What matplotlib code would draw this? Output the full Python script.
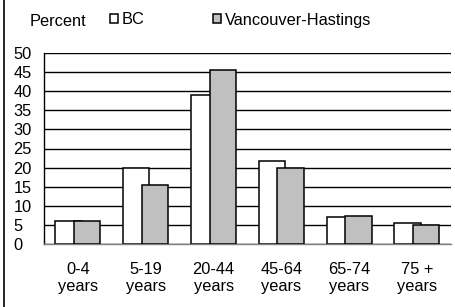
import numpy as np
import matplotlib
matplotlib.use("Agg")
import matplotlib.pyplot as plt
from matplotlib.lines import Line2D

plt.rcParams['font.family'] = ['Liberation Sans', 'DejaVu Sans']

categories = ["0-4\nyears", "5-19\nyears", "20-44\nyears", "45-64\nyears", "65-74\nyears", "75 +\nyears"]
bc = [6.1, 20.0, 39.1, 21.7, 7.1, 5.4]
vancouver_hastings = [5.9, 15.5, 45.6, 20.0, 7.4, 4.9]
series_names = ["BC", "Vancouver-Hastings"]
yticks = list(range(0, 51, 5))

fs = 11.8

fig = plt.figure(figsize=(4.56, 3.07), dpi=100)
ax = fig.add_axes([44/456, 1-244/307, 407/456, 191/307])

x = np.arange(len(categories))
w = 0.39
b1 = ax.bar(x - 0.14, bc, w, color="white", edgecolor="black", linewidth=1.1, zorder=2, label=series_names[0])
b2 = ax.bar(x + 0.135, vancouver_hastings, w, color="#c0c0c0", edgecolor="black", linewidth=1.1, zorder=3, label=series_names[1])

ax.set_xlim(-0.5, len(categories) - 0.5)
ax.set_ylim(0, 50)
ax.set_yticks(yticks)
ax.set_xticks(x)
ax.set_xticklabels(categories, fontsize=fs, linespacing=1.2)
ax.tick_params(axis="both", length=0, labelsize=fs)
ax.tick_params(axis="x", pad=13)
ax.tick_params(axis="y", pad=22)
for lbl in ax.get_yticklabels():
    lbl.set_horizontalalignment("left")

ax.grid(axis="y", color="black", linewidth=1.0, zorder=0)
ax.set_axisbelow(True)
for s in ["top", "right"]:
    ax.spines[s].set_visible(False)
ax.spines["left"].set_linewidth(1.0)
ax.spines["bottom"].set_color("#808080")
ax.spines["bottom"].set_linewidth(1.0)

fig.text(30/456, 1-21/307, "Percent", fontsize=fs, va="center", ha="left")
ax.legend(handles=[b1, b2], ncol=2, frameon=False, fontsize=fs,
          loc="center left", bbox_to_anchor=(110/456, 1-20/307),
          bbox_transform=fig.transFigure, handlelength=0.5, handleheight=0.5,
          handletextpad=0.2, columnspacing=4.2, borderpad=0, borderaxespad=0)

fig.add_artist(Line2D([4/456, 4/456], [0, 1], color="black", linewidth=1.2, transform=fig.transFigure))

fig.savefig("out.png", dpi=100)
